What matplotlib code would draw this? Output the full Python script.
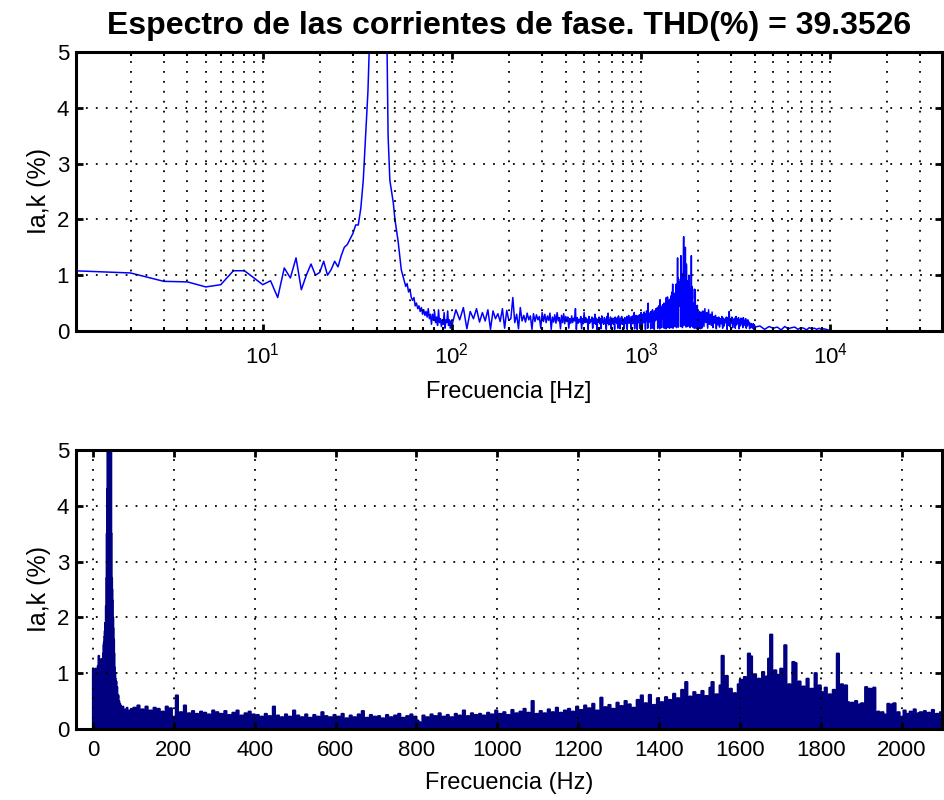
import numpy as np
import matplotlib
matplotlib.use("Agg")
import matplotlib.pyplot as plt
from matplotlib.ticker import LogLocator, NullFormatter, MultipleLocator

plt.rcParams['font.family'] = ['Liberation Sans', 'DejaVu Sans']

# spectrum, in % of the fundamental
# 1..100 Hz, 1 Hz step
f_low = np.arange(1, 101)
a_low = [1.08, 1.04, 0.89, 0.88, 0.79, 0.83, 1.08, 1.08, 0.95, 0.83,
         0.90, 0.60, 1.13, 0.95, 1.31, 0.74, 1.00, 1.20, 1.00, 1.05,
         1.25, 1.00, 1.10, 1.25, 1.15, 1.35, 1.50, 1.55, 1.65, 1.75,
         1.90, 1.90, 2.20, 2.70, 3.50, 4.30, 5.60, 9.00, 18.0, 36.0,
         52.0, 44.0, 24.0, 11.0, 6.20, 3.50, 2.70, 2.50, 2.30, 2.00,
         1.80, 1.60, 1.35, 1.10, 1.00, 0.90, 0.80, 0.85, 0.70, 0.75,
         0.60, 0.55, 0.60, 0.45, 0.50, 0.40, 0.45, 0.35, 0.42, 0.30,
         0.38, 0.28, 0.35, 0.25, 0.40, 0.22, 0.30, 0.12, 0.30, 0.20,
         0.35, 0.15, 0.25, 0.10, 0.38, 0.15, 0.22, 0.08, 0.20, 0.12,
         0.33, 0.05, 0.20, 0.15, 0.36, 0.10, 0.20, 0.05, 0.18, 0.10]

# 105..2100 Hz, 5 Hz step (one row = 100 Hz)
f_mid = np.arange(105, 2101, 5)
a_mid = [0.38, 0.20, 0.42, 0.04, 0.35, 0.22, 0.40, 0.16, 0.33, 0.18, 0.38, 0.03, 0.36, 0.22, 0.31, 0.17, 0.40, 0.05, 0.37, 0.19,
         0.22, 0.60, 0.15, 0.30, 0.04, 0.42, 0.18, 0.28, 0.16, 0.32, 0.20, 0.27, 0.03, 0.31, 0.17, 0.29, 0.20, 0.26, 0.05, 0.33,
         0.17, 0.30, 0.15, 0.27, 0.19, 0.32, 0.03, 0.25, 0.16, 0.29, 0.14, 0.33, 0.18, 0.24, 0.04, 0.28, 0.15, 0.31, 0.13, 0.26,
         0.17, 0.25, 0.05, 0.22, 0.14, 0.27, 0.15, 0.23, 0.18, 0.40, 0.03, 0.24, 0.14, 0.21, 0.16, 0.26, 0.04, 0.22, 0.13, 0.33,
         0.15, 0.24, 0.16, 0.21, 0.03, 0.26, 0.14, 0.20, 0.17, 0.25, 0.05, 0.22, 0.14, 0.30, 0.12, 0.23, 0.02, 0.21, 0.16, 0.25,
         0.13, 0.22, 0.04, 0.27, 0.15, 0.19, 0.12, 0.24, 0.17, 0.21, 0.03, 0.26, 0.14, 0.32, 0.11, 0.20, 0.16, 0.25, 0.04, 0.22,
         0.14, 0.23, 0.12, 0.19, 0.03, 0.25, 0.16, 0.21, 0.13, 0.24, 0.05, 0.27, 0.18, 0.20, 0.04, 0.23, 0.14, 0.26, 0.12, 0.22,
         0.15, 0.12, 0.04, 0.24, 0.17, 0.21, 0.13, 0.26, 0.03, 0.23, 0.19, 0.28, 0.14, 0.22, 0.15, 0.25, 0.04, 0.21, 0.18, 0.27,
         0.13, 0.24, 0.16, 0.33, 0.04, 0.23, 0.14, 0.28, 0.19, 0.25, 0.03, 0.27, 0.15, 0.24, 0.17, 0.29, 0.05, 0.26, 0.15, 0.33,
         0.16, 0.27, 0.04, 0.30, 0.18, 0.25, 0.15, 0.34, 0.16, 0.28, 0.03, 0.31, 0.20, 0.36, 0.17, 0.29, 0.05, 0.50, 0.17, 0.27,
         0.16, 0.32, 0.19, 0.28, 0.04, 0.35, 0.18, 0.30, 0.21, 0.38, 0.05, 0.29, 0.19, 0.33, 0.03, 0.36, 0.18, 0.31, 0.22, 0.40,
         0.20, 0.34, 0.22, 0.42, 0.05, 0.37, 0.21, 0.45, 0.25, 0.33, 0.04, 0.56, 0.23, 0.39, 0.20, 0.43, 0.06, 0.36, 0.24, 0.47,
         0.22, 0.41, 0.25, 0.50, 0.05, 0.44, 0.27, 0.38, 0.24, 0.52, 0.04, 0.60, 0.27, 0.46, 0.25, 0.61, 0.06, 0.43, 0.26, 0.55,
         0.30, 0.48, 0.05, 0.57, 0.33, 0.52, 0.30, 0.63, 0.06, 0.55, 0.35, 0.70, 0.38, 0.84, 0.05, 0.58, 0.36, 0.66, 0.38, 0.61,
         0.08, 0.68, 0.40, 0.59, 0.42, 0.74, 0.84, 0.06, 0.62, 0.45, 0.78, 1.31, 0.48, 0.95, 0.07, 0.72, 0.50, 0.64, 0.45, 0.80,
         0.88, 0.52, 0.93, 0.08, 1.35, 1.30, 0.58, 0.98, 0.55, 0.90, 0.06, 1.02, 0.60, 0.94, 1.26, 1.69, 0.10, 1.05, 0.62, 0.97,
         1.08, 0.55, 1.50, 0.60, 0.80, 0.07, 1.20, 1.18, 0.55, 0.85, 0.50, 0.76, 0.08, 0.90, 0.48, 0.72, 0.55, 1.00, 0.10, 0.78,
         0.66, 0.45, 0.74, 0.06, 0.62, 0.44, 0.70, 0.48, 1.35, 0.09, 0.80, 0.45, 0.78, 0.48, 0.07, 0.47, 0.38, 0.50, 0.24, 0.44,
         0.46, 0.05, 0.75, 0.58, 0.72, 0.40, 0.74, 0.06, 0.31, 0.20, 0.30, 0.26, 0.04, 0.45, 0.33, 0.44, 0.46, 0.18, 0.30, 0.06,
         0.22, 0.33, 0.27, 0.05, 0.31, 0.22, 0.35, 0.18, 0.28, 0.30, 0.04, 0.32, 0.25, 0.29, 0.17, 0.34, 0.20, 0.27, 0.05, 0.30]

# 2125..4000 Hz, 25 Hz step (only seen on the log plot)
f_high = np.arange(2125, 4001, 25)
a_high = [0.36, 0.08, 0.40, 0.15, 0.33, 0.05, 0.38, 0.12, 0.30, 0.10,
          0.34, 0.06, 0.26, 0.14, 0.28, 0.04, 0.24, 0.11, 0.25, 0.07,
          0.22, 0.13, 0.26, 0.05, 0.23, 0.09, 0.21, 0.15, 0.25, 0.03,
          0.24, 0.10, 0.35, 0.08, 0.22, 0.14, 0.25, 0.06, 0.21, 0.12,
          0.23, 0.05, 0.26, 0.11, 0.22, 0.15, 0.24, 0.04, 0.20, 0.09,
          0.23, 0.13, 0.21, 0.06, 0.24, 0.10, 0.19, 0.14, 0.22, 0.05,
          0.18, 0.09, 0.20, 0.12, 0.16, 0.04, 0.14, 0.08, 0.13, 0.06,
          0.12, 0.05, 0.13, 0.03, 0.11, 0.07]

# 4250..9750 Hz, 250 Hz step
f_tail = np.arange(4250, 9751, 250)
a_tail = [0.09, 0.03, 0.08, 0.05, 0.07, 0.02, 0.08, 0.04, 0.06, 0.07, 0.03, 0.06,
          0.05, 0.02, 0.06, 0.04, 0.05, 0.03, 0.05, 0.02, 0.04, 0.03, 0.02]

title = 'Espectro de las corrientes de fase. THD(%) = 39.3526'

freq = np.concatenate([f_low, f_mid, f_high, f_tail])
amp = np.concatenate([a_low, a_mid, a_high, a_tail])

# part of the spectrum shown as bars (0..2100 Hz)
f_bar = np.concatenate([[0], f_low, f_mid])
a_bar = np.concatenate([[a_low[0]], a_low, a_mid])

dotted = (0, (1, 4.5))
bar_color = '#000080'

fig = plt.figure(figsize=(9.45, 8.0), dpi=100)
ax1 = fig.add_axes([76/945, 1 - 331/800, 866/945, 279/800])
ax2 = fig.add_axes([76/945, 1 - 729/800, 866/945, 279/800])

# top: log frequency axis, line
ax1.semilogx(freq, amp, color='#0000ff', linewidth=1.1)
ax1.set_xlim(1.03, 39000)
ax1.set_ylim(0, 5)
ax1.xaxis.set_major_locator(LogLocator(base=10, numticks=10))
ax1.xaxis.set_minor_locator(LogLocator(base=10, subs=np.arange(2, 10), numticks=20))
ax1.xaxis.set_minor_formatter(NullFormatter())
ax1.grid(True, which='major', linestyle=dotted, color='k', linewidth=1.3)
ax1.xaxis.grid(True, which='minor', linestyle=dotted, color='k', linewidth=1.3)
ax1.set_xlabel('Frecuencia [Hz]', fontsize=17, labelpad=9)
ax1.set_title(title, fontsize=23, fontweight='bold', pad=13)

# bottom: linear frequency axis, bars (thick outline merges neighbouring thin bars)
ax2.fill_between(f_bar, a_bar, step='pre', color=bar_color, edgecolor=bar_color, linewidth=1.6)
ax2.set_xlim(-42, 2100)
ax2.set_ylim(0, 5)
ax2.xaxis.set_major_locator(MultipleLocator(200))
ax2.grid(True, which='major', linestyle=dotted, color='k', linewidth=1.3)
ax2.set_xlabel('Frecuencia (Hz)', fontsize=17, labelpad=8)

for ax in (ax1, ax2):
    ax.set_axisbelow(False)
    ax.set_ylabel('Ia,k (%)', fontsize=18, labelpad=4)
    ax.tick_params(which='major', direction='in', length=5, width=2, top=True, right=True, labelsize=16, pad=8)
    ax.tick_params(axis='y', which='major', pad=5)
    ax.tick_params(which='minor', direction='in', length=3, width=1.5, top=True, right=True)
    for s in ax.spines.values():
        s.set_linewidth(2.2)

fig.savefig('out.png', dpi=100)
